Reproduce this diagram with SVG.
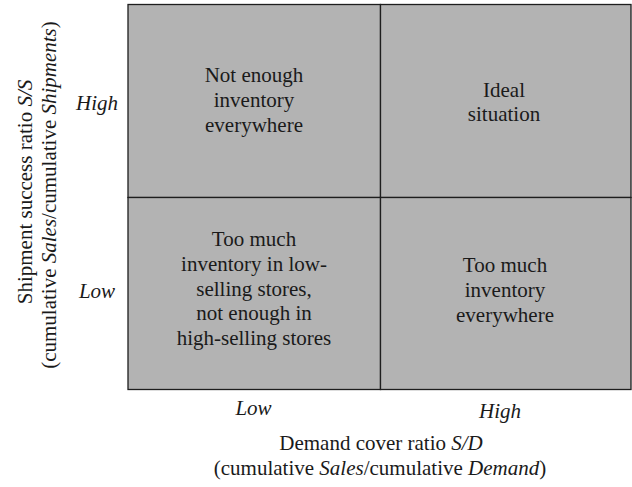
<svg xmlns="http://www.w3.org/2000/svg" width="632" height="487" viewBox="0 0 632 487" font-family="'Liberation Serif', 'Times New Roman', Times, serif">
<style>
.cell{fill:#b3b3b3;stroke:#1e1e1e;stroke-width:1.3}
text{font-family:'Liberation Serif','Times New Roman',Times,serif;font-size:21px;fill:#1a1a1a;text-anchor:middle}
.i{font-style:italic}
</style>
<rect width="632" height="487" fill="#ffffff"/>
<g id="cell-high-low">
<rect class="cell" x="128" y="4.5" width="252.5" height="193"/>
<text><tspan x="254" y="82">Not enough</tspan><tspan x="254" y="107">inventory</tspan><tspan x="254" y="132">everywhere</tspan></text>
</g>
<g id="cell-high-high">
<rect class="cell" x="380.5" y="4.5" width="250.5" height="193"/>
<text><tspan x="504" y="97">Ideal</tspan><tspan x="504" y="121">situation</tspan></text>
</g>
<g id="cell-low-low">
<rect class="cell" x="128" y="197.5" width="252.5" height="192"/>
<text><tspan x="254" y="245.5">Too much</tspan><tspan x="254" y="270.5">inventory in low-</tspan><tspan x="254" y="295.5">selling stores,</tspan><tspan x="254" y="320">not enough in</tspan><tspan x="254" y="345">high-selling stores</tspan></text>
</g>
<g id="cell-low-high">
<rect class="cell" x="380.5" y="197.5" width="250.5" height="192"/>
<text><tspan x="505" y="272">Too much</tspan><tspan x="505" y="297">inventory</tspan><tspan x="505" y="322">everywhere</tspan></text>
</g>
<g id="connectors"></g>
<g id="y-axis">
<text class="i" x="97" y="110">High</text>
<text class="i" x="97" y="298">Low</text>
<text transform="translate(32,192) rotate(-90)">Shipment success ratio <tspan class="i">S/S</tspan></text>
<text transform="translate(56,195) rotate(-90)">(cumulative <tspan class="i">Sales</tspan>/cumulative <tspan class="i">Shipments</tspan>)</text>
</g>
<g id="x-axis">
<text class="i" x="253.5" y="415">Low</text>
<text class="i" x="500" y="418">High</text>
<text x="381" y="450">Demand cover ratio <tspan class="i">S/D</tspan></text>
<text x="380" y="475">(cumulative <tspan class="i">Sales</tspan>/cumulative <tspan class="i">Demand</tspan>)</text>
</g>
</svg>
